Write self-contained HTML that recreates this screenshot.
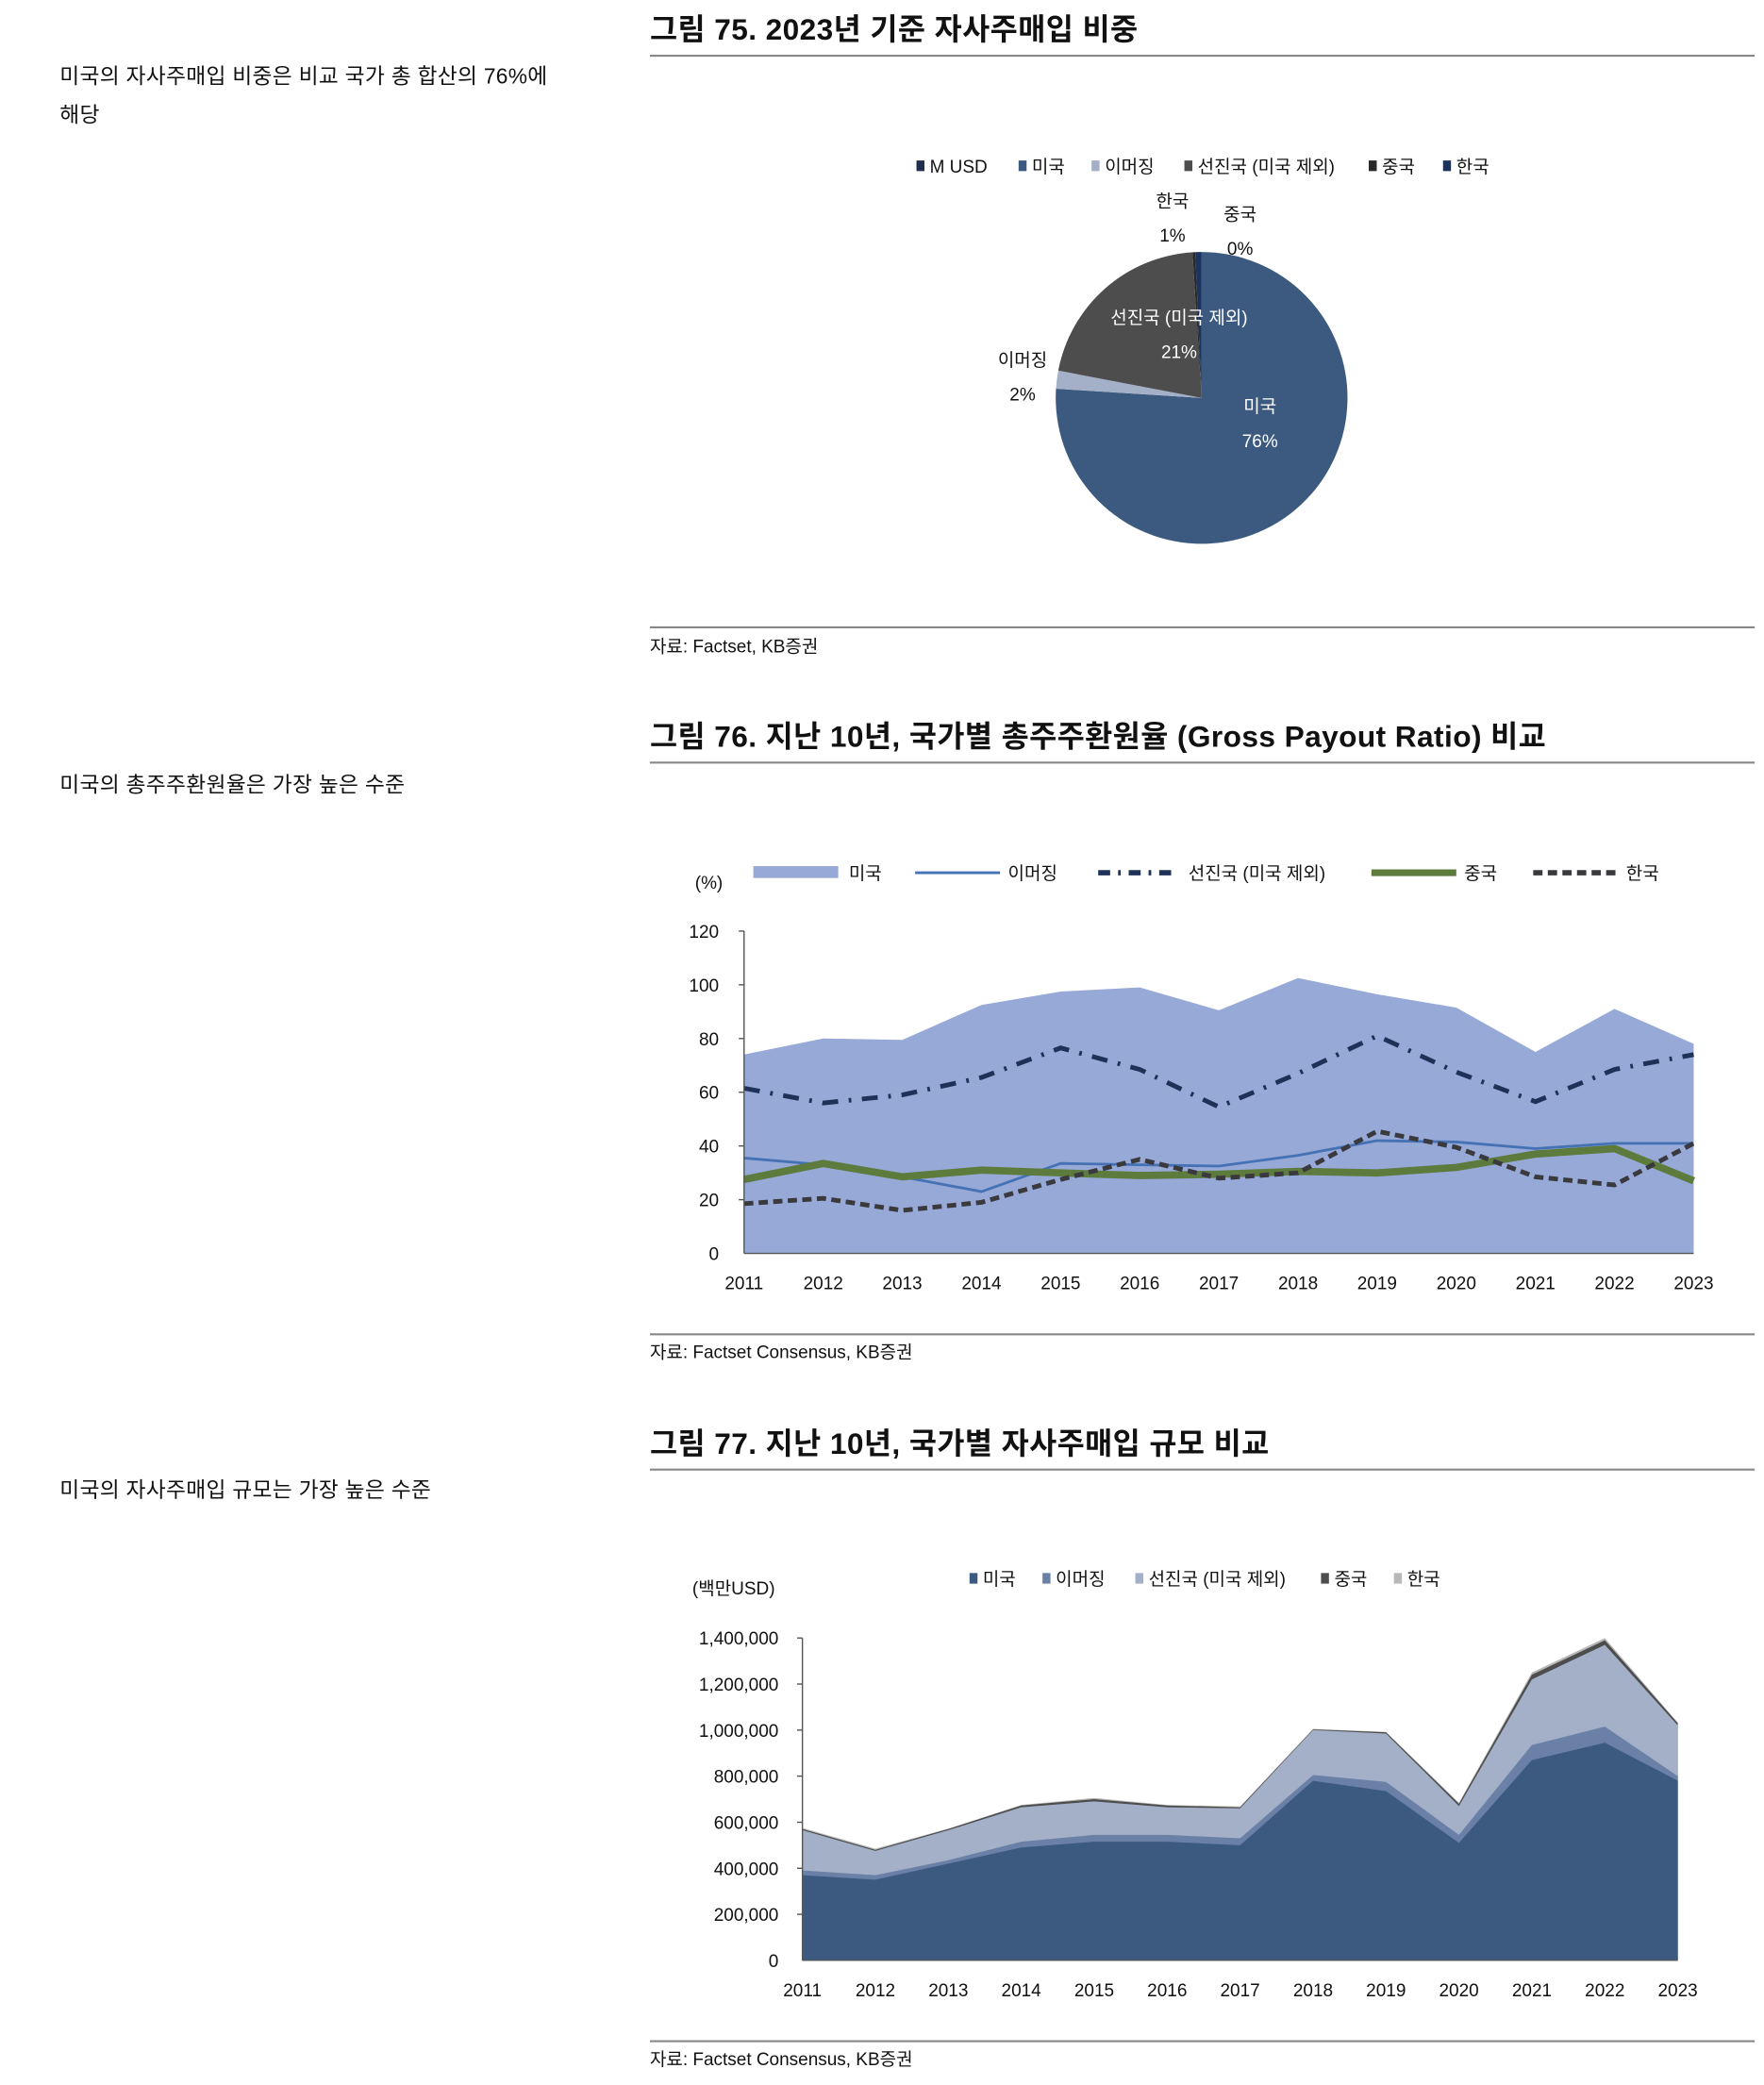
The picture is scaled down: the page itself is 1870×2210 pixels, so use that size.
<!DOCTYPE html>
<html><head><meta charset="utf-8"><style>
html,body{margin:0;padding:0;background:#fff;}
svg{display:block;}
text{font-family:"Liberation Sans","Noto Sans CJK KR",sans-serif;fill:#111;}
.t{font-size:22.5px;font-weight:bold;letter-spacing:0.3px;}
.b{font-size:16.2px;letter-spacing:0.2px;}
.s{font-size:13.5px;}
.k{font-size:13.5px;}
</style></head><body>
<svg width="1870" height="2210" viewBox="0 0 1330 1572" preserveAspectRatio="none" xmlns="http://www.w3.org/2000/svg">
<!-- Figure 75 -->
<text x="490" y="30" class="t">그림 75. 2023년 기준 자사주매입 비중</text>
<line x1="490" y1="42" x2="1323" y2="42" stroke="#888" stroke-width="1.5"/>
<text x="45" y="63" class="b">미국의 자사주매입 비중은 비교 국가 총 합산의 76%에</text>
<text x="45" y="92" class="b">해당</text>
<g class="s">
<rect x="691" y="121" width="6" height="8" fill="#1f2d4e"/><text x="701" y="130" class="s">M USD</text>
<rect x="768" y="121" width="6" height="8" fill="#3c5a80"/><text x="778" y="130" class="s">미국</text>
<rect x="823" y="121" width="6" height="8" fill="#a3b0c7"/><text x="833" y="130" class="s">이머징</text>
<rect x="893" y="121" width="6" height="8" fill="#4d4d4d"/><text x="903" y="130" class="s">선진국 (미국 제외)</text>
<rect x="1032" y="121" width="6" height="8" fill="#2a2a2a"/><text x="1042" y="130" class="s">중국</text>
<rect x="1088" y="121" width="6" height="8" fill="#1c3360"/><text x="1098" y="130" class="s">한국</text>
</g>
<path d="M906,300 L906,190 A110,110 0 1,1 796.2,293.1 Z" fill="#3c5a80"/>
<path d="M906,300 L796.2,293.1 A110,110 0 0,1 797.9,279.4 Z" fill="#a3b0c7"/>
<path d="M906,300 L797.9,279.4 A110,110 0 0,1 899.1,190.2 Z" fill="#4d4d4d"/>
<path d="M906,300 L899.1,190.2 A110,110 0 0,1 901.2,190.1 Z" fill="#2a2a2a"/>
<path d="M906,300 L901.2,190.1 A110,110 0 0,1 906,190 Z" fill="#1c3360"/>
<text x="884" y="156" class="s" text-anchor="middle">한국</text>
<text x="884" y="182" class="s" text-anchor="middle">1%</text>
<text x="935" y="166" class="s" text-anchor="middle">중국</text>
<text x="935" y="192" class="s" text-anchor="middle">0%</text>
<text x="771" y="276" class="s" text-anchor="middle">이머징</text>
<text x="771" y="302" class="s" text-anchor="middle">2%</text>
<text x="889" y="244" class="s" text-anchor="middle" style="fill:#fff">선진국 (미국 제외)</text>
<text x="889" y="270" class="s" text-anchor="middle" style="fill:#fff">21%</text>
<text x="950" y="311" class="s" text-anchor="middle" style="fill:#fff">미국</text>
<text x="950" y="337" class="s" text-anchor="middle" style="fill:#fff">76%</text>
<line x1="490" y1="473" x2="1323" y2="473" stroke="#888" stroke-width="1.5"/>
<text x="490" y="492" class="s">자료: Factset, KB증권</text>

<!-- Figure 76 -->
<text x="490" y="563" class="t">그림 76. 지난 10년, 국가별 총주주환원율 (Gross Payout Ratio) 비교</text>
<line x1="490" y1="575" x2="1323" y2="575" stroke="#888" stroke-width="1.5"/>
<text x="45" y="597" class="b">미국의 총주주환원율은 가장 높은 수준</text>
<rect x="568" y="653" width="64" height="9" fill="#97a9d7"/><text x="640" y="663" class="s">미국</text>
<line x1="690" y1="658" x2="754" y2="658" stroke="#4472b4" stroke-width="2"/><text x="760" y="663" class="s">이머징</text>
<line x1="828" y1="658" x2="888" y2="658" stroke="#1f3157" stroke-width="4" stroke-dasharray="9,6,2,6"/><text x="896" y="663" class="s">선진국 (미국 제외)</text>
<line x1="1034" y1="658" x2="1098" y2="658" stroke="#5c7b3c" stroke-width="5"/><text x="1104" y="663" class="s">중국</text>
<line x1="1156" y1="658" x2="1220" y2="658" stroke="#3a3a3e" stroke-width="4" stroke-dasharray="7,4"/><text x="1226" y="663" class="s">한국</text>
<text x="524" y="670" class="s">(%)</text>
<polygon points="561,795.1 620.7,783 680.3,784 740,757.7 799.7,747.6 859.3,744.5 919,761.7 978.7,737.4 1038.3,749.6 1098,759.7 1157.7,793.1 1217.3,760.7 1277,787 1277,945 561,945" fill="#97a9d7"/>
<polyline points="561,873.1 620.7,878.2 680.3,887.3 740,898.4 799.7,877.2 859.3,878.2 919,879.2 978.7,871.1 1038.3,860 1098,861 1157.7,866 1217.3,862 1277,862" fill="none" stroke="#4472b4" stroke-width="2"/>
<polyline points="561,820.5 620.7,831.6 680.3,825.5 740,812.4 799.7,790.1 859.3,806.3 919,834.6 978.7,809.3 1038.3,781 1098,808.3 1157.7,830.6 1217.3,806.3 1277,795.1" fill="none" stroke="#1f3157" stroke-width="3.5" stroke-dasharray="12,8,2,8"/>
<polyline points="561,889.3 620.7,877.2 680.3,887.3 740,882.2 799.7,884.3 859.3,886.3 919,885.3 978.7,883.2 1038.3,884.3 1098,880.2 1157.7,870.1 1217.3,866 1277,890.3" fill="none" stroke="#5c7b3c" stroke-width="5.5"/>
<polyline points="561,907.5 620.7,903.5 680.3,912.6 740,906.5 799.7,889.3 859.3,874.1 919,888.3 978.7,884.3 1038.3,852.9 1098,865 1157.7,887.3 1217.3,893.4 1277,862" fill="none" stroke="#3a3a3e" stroke-width="3.5" stroke-dasharray="7,4"/>
<g stroke="#555" stroke-width="1">
<line x1="561" y1="702" x2="561" y2="945"/><line x1="561" y1="945" x2="1277" y2="945"/>
<line x1="557" y1="702" x2="561" y2="702"/><line x1="557" y1="742.5" x2="561" y2="742.5"/><line x1="557" y1="783" x2="561" y2="783"/><line x1="557" y1="823.5" x2="561" y2="823.5"/><line x1="557" y1="864" x2="561" y2="864"/><line x1="557" y1="904.5" x2="561" y2="904.5"/>
</g>
<g text-anchor="end">
<text x="542" y="707" class="k">120</text><text x="542" y="747.5" class="k">100</text><text x="542" y="788" class="k">80</text><text x="542" y="828.5" class="k">60</text><text x="542" y="869" class="k">40</text><text x="542" y="909.5" class="k">20</text><text x="542" y="950" class="k">0</text>
</g>
<g text-anchor="middle">
<text x="561" y="972" class="k">2011</text><text x="620.7" y="972" class="k">2012</text><text x="680.3" y="972" class="k">2013</text><text x="740" y="972" class="k">2014</text><text x="799.7" y="972" class="k">2015</text><text x="859.3" y="972" class="k">2016</text><text x="919" y="972" class="k">2017</text><text x="978.7" y="972" class="k">2018</text><text x="1038.3" y="972" class="k">2019</text><text x="1098" y="972" class="k">2020</text><text x="1157.7" y="972" class="k">2021</text><text x="1217.3" y="972" class="k">2022</text><text x="1277" y="972" class="k">2023</text>
</g>
<line x1="490" y1="1006" x2="1323" y2="1006" stroke="#888" stroke-width="1.5"/>
<text x="490" y="1024" class="s">자료: Factset Consensus, KB증권</text>

<!-- Figure 77 -->
<text x="490" y="1096" class="t">그림 77. 지난 10년, 국가별 자사주매입 규모 비교</text>
<line x1="490" y1="1108" x2="1323" y2="1108" stroke="#888" stroke-width="1.5"/>
<text x="45" y="1129" class="b">미국의 자사주매입 규모는 가장 높은 수준</text>
<rect x="731" y="1186" width="6" height="8" fill="#3c5a80"/><text x="741" y="1195" class="s">미국</text>
<rect x="786" y="1186" width="6" height="8" fill="#6a80a6"/><text x="796" y="1195" class="s">이머징</text>
<rect x="856" y="1186" width="6" height="8" fill="#a3b0c7"/><text x="866" y="1195" class="s">선진국 (미국 제외)</text>
<rect x="996" y="1186" width="6" height="8" fill="#4d4d4d"/><text x="1006" y="1195" class="s">중국</text>
<rect x="1051" y="1186" width="6" height="8" fill="#b8b8b8"/><text x="1061" y="1195" class="s">한국</text>
<text x="522" y="1202" class="s">(백만USD)</text>
<polygon points="605,1378.2 660,1393.8 715,1378.7 770,1360.8 825,1355.6 880,1360.8 935,1362 990,1303.5 1045,1305.8 1100,1359.1 1155,1261 1210,1235 1265,1298.8 1265,1478 605,1478" fill="#b8b8b8"/>
<polygon points="605,1379 660,1394.7 715,1379 770,1361.3 825,1356.5 880,1361.3 935,1362.6 990,1303.9 1045,1306.1 1100,1360 1155,1262.7 1210,1236.7 1265,1299.2 1265,1478 605,1478" fill="#4d4d4d"/>
<polygon points="605,1379.9 660,1395.5 715,1379.9 770,1362.6 825,1358.2 880,1362.6 935,1363.4 990,1304.4 1045,1307 1100,1361.7 1155,1266.2 1210,1240.2 1265,1300.9 1265,1478 605,1478" fill="#a3b0c7"/>
<polygon points="605,1410.3 660,1413.8 715,1402.5 770,1388.6 825,1383.4 880,1383.4 935,1386 990,1338.3 1045,1343.5 1100,1383.4 1155,1315.7 1210,1301.8 1265,1339.1 1265,1478 605,1478" fill="#6a80a6"/>
<polygon points="605,1413.8 660,1417.2 715,1405.1 770,1392.9 825,1388.6 880,1388.6 935,1391.2 990,1342.6 1045,1350.4 1100,1389.5 1155,1327 1210,1314 1265,1342.6 1265,1478 605,1478" fill="#3c5a80"/>
<g stroke="#555" stroke-width="1">
<line x1="605" y1="1235" x2="605" y2="1478"/><line x1="605" y1="1478" x2="1265" y2="1478"/>
<line x1="601" y1="1235" x2="605" y2="1235"/><line x1="601" y1="1269.7" x2="605" y2="1269.7"/><line x1="601" y1="1304.4" x2="605" y2="1304.4"/><line x1="601" y1="1339.1" x2="605" y2="1339.1"/><line x1="601" y1="1373.9" x2="605" y2="1373.9"/><line x1="601" y1="1408.6" x2="605" y2="1408.6"/><line x1="601" y1="1443.3" x2="605" y2="1443.3"/>
</g>
<g text-anchor="end">
<text x="587" y="1240" class="k">1,400,000</text><text x="587" y="1274.7" class="k">1,200,000</text><text x="587" y="1309.4" class="k">1,000,000</text><text x="587" y="1344.1" class="k">800,000</text><text x="587" y="1378.9" class="k">600,000</text><text x="587" y="1413.6" class="k">400,000</text><text x="587" y="1448.3" class="k">200,000</text><text x="587" y="1483" class="k">0</text>
</g>
<g text-anchor="middle">
<text x="605" y="1505" class="k">2011</text><text x="660" y="1505" class="k">2012</text><text x="715" y="1505" class="k">2013</text><text x="770" y="1505" class="k">2014</text><text x="825" y="1505" class="k">2015</text><text x="880" y="1505" class="k">2016</text><text x="935" y="1505" class="k">2017</text><text x="990" y="1505" class="k">2018</text><text x="1045" y="1505" class="k">2019</text><text x="1100" y="1505" class="k">2020</text><text x="1155" y="1505" class="k">2021</text><text x="1210" y="1505" class="k">2022</text><text x="1265" y="1505" class="k">2023</text>
</g>
<line x1="490" y1="1539" x2="1323" y2="1539" stroke="#888" stroke-width="1.5"/>
<text x="490" y="1557" class="s">자료: Factset Consensus, KB증권</text>
</svg>
</body></html>
